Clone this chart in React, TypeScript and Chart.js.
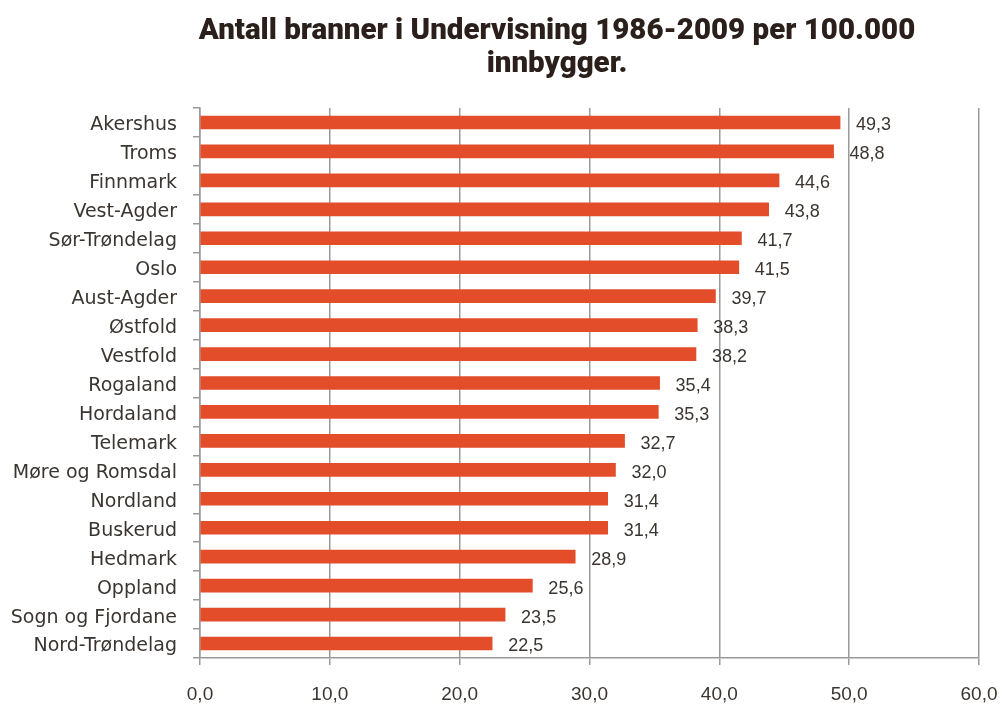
import React, { useEffect, useRef } from "react";
import { Chart, registerables } from "chart.js";

Chart.register(...registerables);

const TITLE_LINES = ["Antall branner i Undervisning 1986-2009 per 100.000", "innbygger."];
const CATEGORIES = [
  "Akershus",
  "Troms",
  "Finnmark",
  "Vest-Agder",
  "Sør-Trøndelag",
  "Oslo",
  "Aust-Agder",
  "Østfold",
  "Vestfold",
  "Rogaland",
  "Hordaland",
  "Telemark",
  "Møre og Romsdal",
  "Nordland",
  "Buskerud",
  "Hedmark",
  "Oppland",
  "Sogn og Fjordane",
  "Nord-Trøndelag",
];
const VALUES = [49.3, 48.8, 44.6, 43.8, 41.7, 41.5, 39.7, 38.3, 38.2, 35.4, 35.3, 32.7, 32.0, 31.4, 31.4, 28.9, 25.6, 23.5, 22.5];
const X_MIN = 0;
const X_MAX = 60;
const X_STEP = 10;

const fmt = (v: number) => v.toFixed(1).replace(".", ",");

export default function App() {
  const ref = useRef<HTMLCanvasElement | null>(null);
  useEffect(() => {
    document.body.style.margin = "0";
    const canvas = ref.current;
    if (!canvas) return;

    const titlePlugin = {
      id: "customTitle",
      afterDraw(chart: any) {
        const ctx = chart.ctx;
        ctx.save();
        ctx.fillStyle = "#2a1f1a";
        ctx.font = "900 29.5px Roboto";
        ctx.textAlign = "center";
        ctx.textBaseline = "alphabetic";
        ctx.fillText(TITLE_LINES[0], 557, 39);
        ctx.fillText(TITLE_LINES[1], 557, 72);
        ctx.restore();
      },
    };

    const valueLabels = {
      id: "valueLabels",
      afterDatasetsDraw(chart: any) {
        const ctx = chart.ctx;
        const meta = chart.getDatasetMeta(0);
        ctx.save();
        ctx.fillStyle = "#3b3531";
        ctx.font = "18px 'Liberation Sans'";
        ctx.textAlign = "left";
        ctx.textBaseline = "middle";
        meta.data.forEach((el: any, i: number) => {
          ctx.fillText(fmt(VALUES[i]), el.x + 16, el.y + 3);
        });
        ctx.restore();
      },
    };

    const chart = new Chart(canvas, {
      type: "bar",
      data: {
        labels: CATEGORIES,
        datasets: [
          {
            data: VALUES,
            backgroundColor: "#e34d2a",
            borderWidth: 0,
            barThickness: 13,
          },
        ],
      },
      options: {
        indexAxis: "y",
        animation: false,
        responsive: false,
        maintainAspectRatio: false,
        layout: { padding: { top: 108, right: 21, left: 0, bottom: 0 } },
        plugins: {
          legend: { display: false },
          title: { display: false },
          tooltip: { enabled: false },
        },
        scales: {
          x: {
            min: X_MIN,
            max: X_MAX,
            ticks: {
              stepSize: X_STEP,
              color: "#3b3531",
              font: { family: "'Liberation Sans'", size: 19 },
              padding: 18,
              callback: (v: any) => fmt(Number(v)),
              maxRotation: 0,
            },
            grid: { color: "#9a9a9a", lineWidth: 1.5, tickLength: 7, drawOnChartArea: true },
            border: { display: true, color: "#9a9a9a", width: 1.5 },
            afterFit: (s: any) => {
              s.height = 47;
              s.paddingLeft = 0;
              s.paddingRight = 0;
            },
          },
          y: {
            ticks: {
              color: "#3b3531",
              font: { family: "'DejaVu Sans'", size: 19 },
              padding: 16,
              labelOffset: 3,
            },
            grid: { display: true, drawOnChartArea: false, color: "#9a9a9a", lineWidth: 1.5, tickLength: 7, offset: true },
            border: { display: true, color: "#9a9a9a", width: 1.5 },
            afterFit: (s: any) => {
              s.width = 200;
              s.paddingTop = 0;
              s.paddingBottom = 0;
            },
          },
        },
      },
      plugins: [titlePlugin, valueLabels],
    });
    return () => chart.destroy();
  }, []);

  return (
    <div style={{ width: 1000, height: 705, background: "#fff" }}>
      <canvas ref={ref} width={1000} height={705} style={{ display: "block", width: 1000, height: 705 }} />
    </div>
  );
}
